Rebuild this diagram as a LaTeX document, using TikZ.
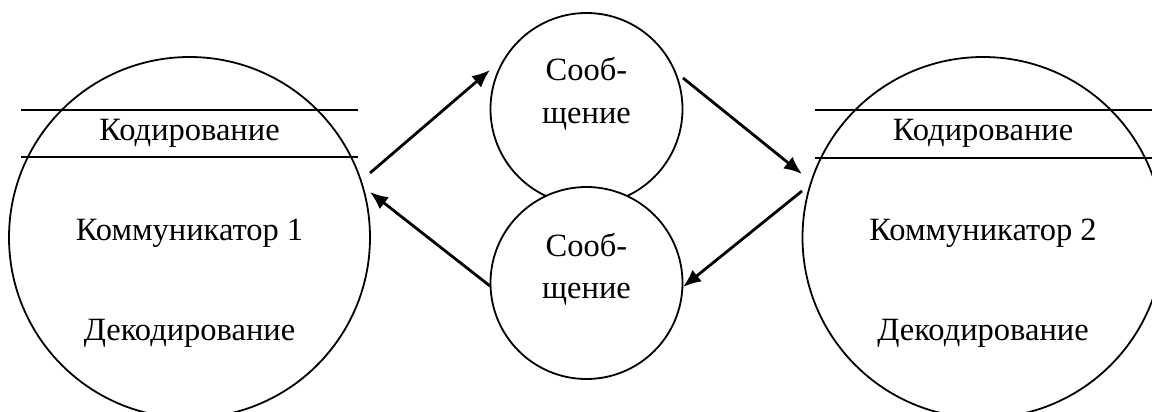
\documentclass[tikz,border=0pt]{standalone}
\usepackage{fontspec}
\setmainfont{Liberation Serif}
\usetikzlibrary{arrows.meta}
\begin{document}
\begin{tikzpicture}[x=1pt,y=-1pt,
  big/.style={circle,draw,line width=1.8pt,minimum size=361pt,inner sep=0pt},
  msg/.style={circle,draw,fill=white,line width=1.8pt,minimum size=192pt,inner sep=0pt},
  lbl/.style={anchor=base,inner sep=0pt,font=\fontsize{32.5}{38}\selectfont},
  sep/.style={line width=1.8pt},
  arr/.style={line width=2.8pt,-{Latex[length=18pt,width=15pt]}}]
\useasboundingbox (0,0) rectangle (1152,412);
\clip (0,0) rectangle (1152,412);
% communicator circles
\node[big] (c1) at (189.5,237.5) {};
\node[big] (c2) at (983,237.5) {};
% separator lines
\draw[sep] (21,110) -- (358,110);
\draw[sep] (21,157) -- (358,157);
\draw[sep] (815,110) -- (1152,110);
\draw[sep] (815,158) -- (1152,158);
% labels of communicators
\node[lbl] (k1) at (189.5,140) {Кодирование};
\node[lbl] (m1) at (189.5,240) {Коммуникатор 1};
\node[lbl] (d1) at (189.5,340) {Декодирование};
\node[lbl] (k2) at (983,140) {Кодирование};
\node[lbl] (m2) at (983,240) {Коммуникатор 2};
\node[lbl] (d2) at (983,340) {Декодирование};
% message circles
\node[msg] (s1) at (586.5,109) {};
\node[msg] (s2) at (586.5,283) {};
\node[lbl] (s1a) at (586.5,81) {Сооб-};
\node[lbl] (s1b) at (586.5,124) {щение};
\node[lbl] (s2a) at (586.5,256) {Сооб-};
\node[lbl] (s2b) at (586.5,298) {щение};
% arrow end points
\coordinate (a1s) at (370,173);
\coordinate (a1e) at (490,70);
\coordinate (a2s) at (683,78);
\coordinate (a2e) at (802,174);
\coordinate (a3s) at (802,191);
\coordinate (a3e) at (683,287);
\coordinate (a4s) at (490,286);
\coordinate (a4e) at (370,192);
\draw[arr] (a1s) -- (a1e);
\draw[arr] (a2s) -- (a2e);
\draw[arr] (a3s) -- (a3e);
\draw[arr] (a4s) -- (a4e);
\end{tikzpicture}
\end{document}
